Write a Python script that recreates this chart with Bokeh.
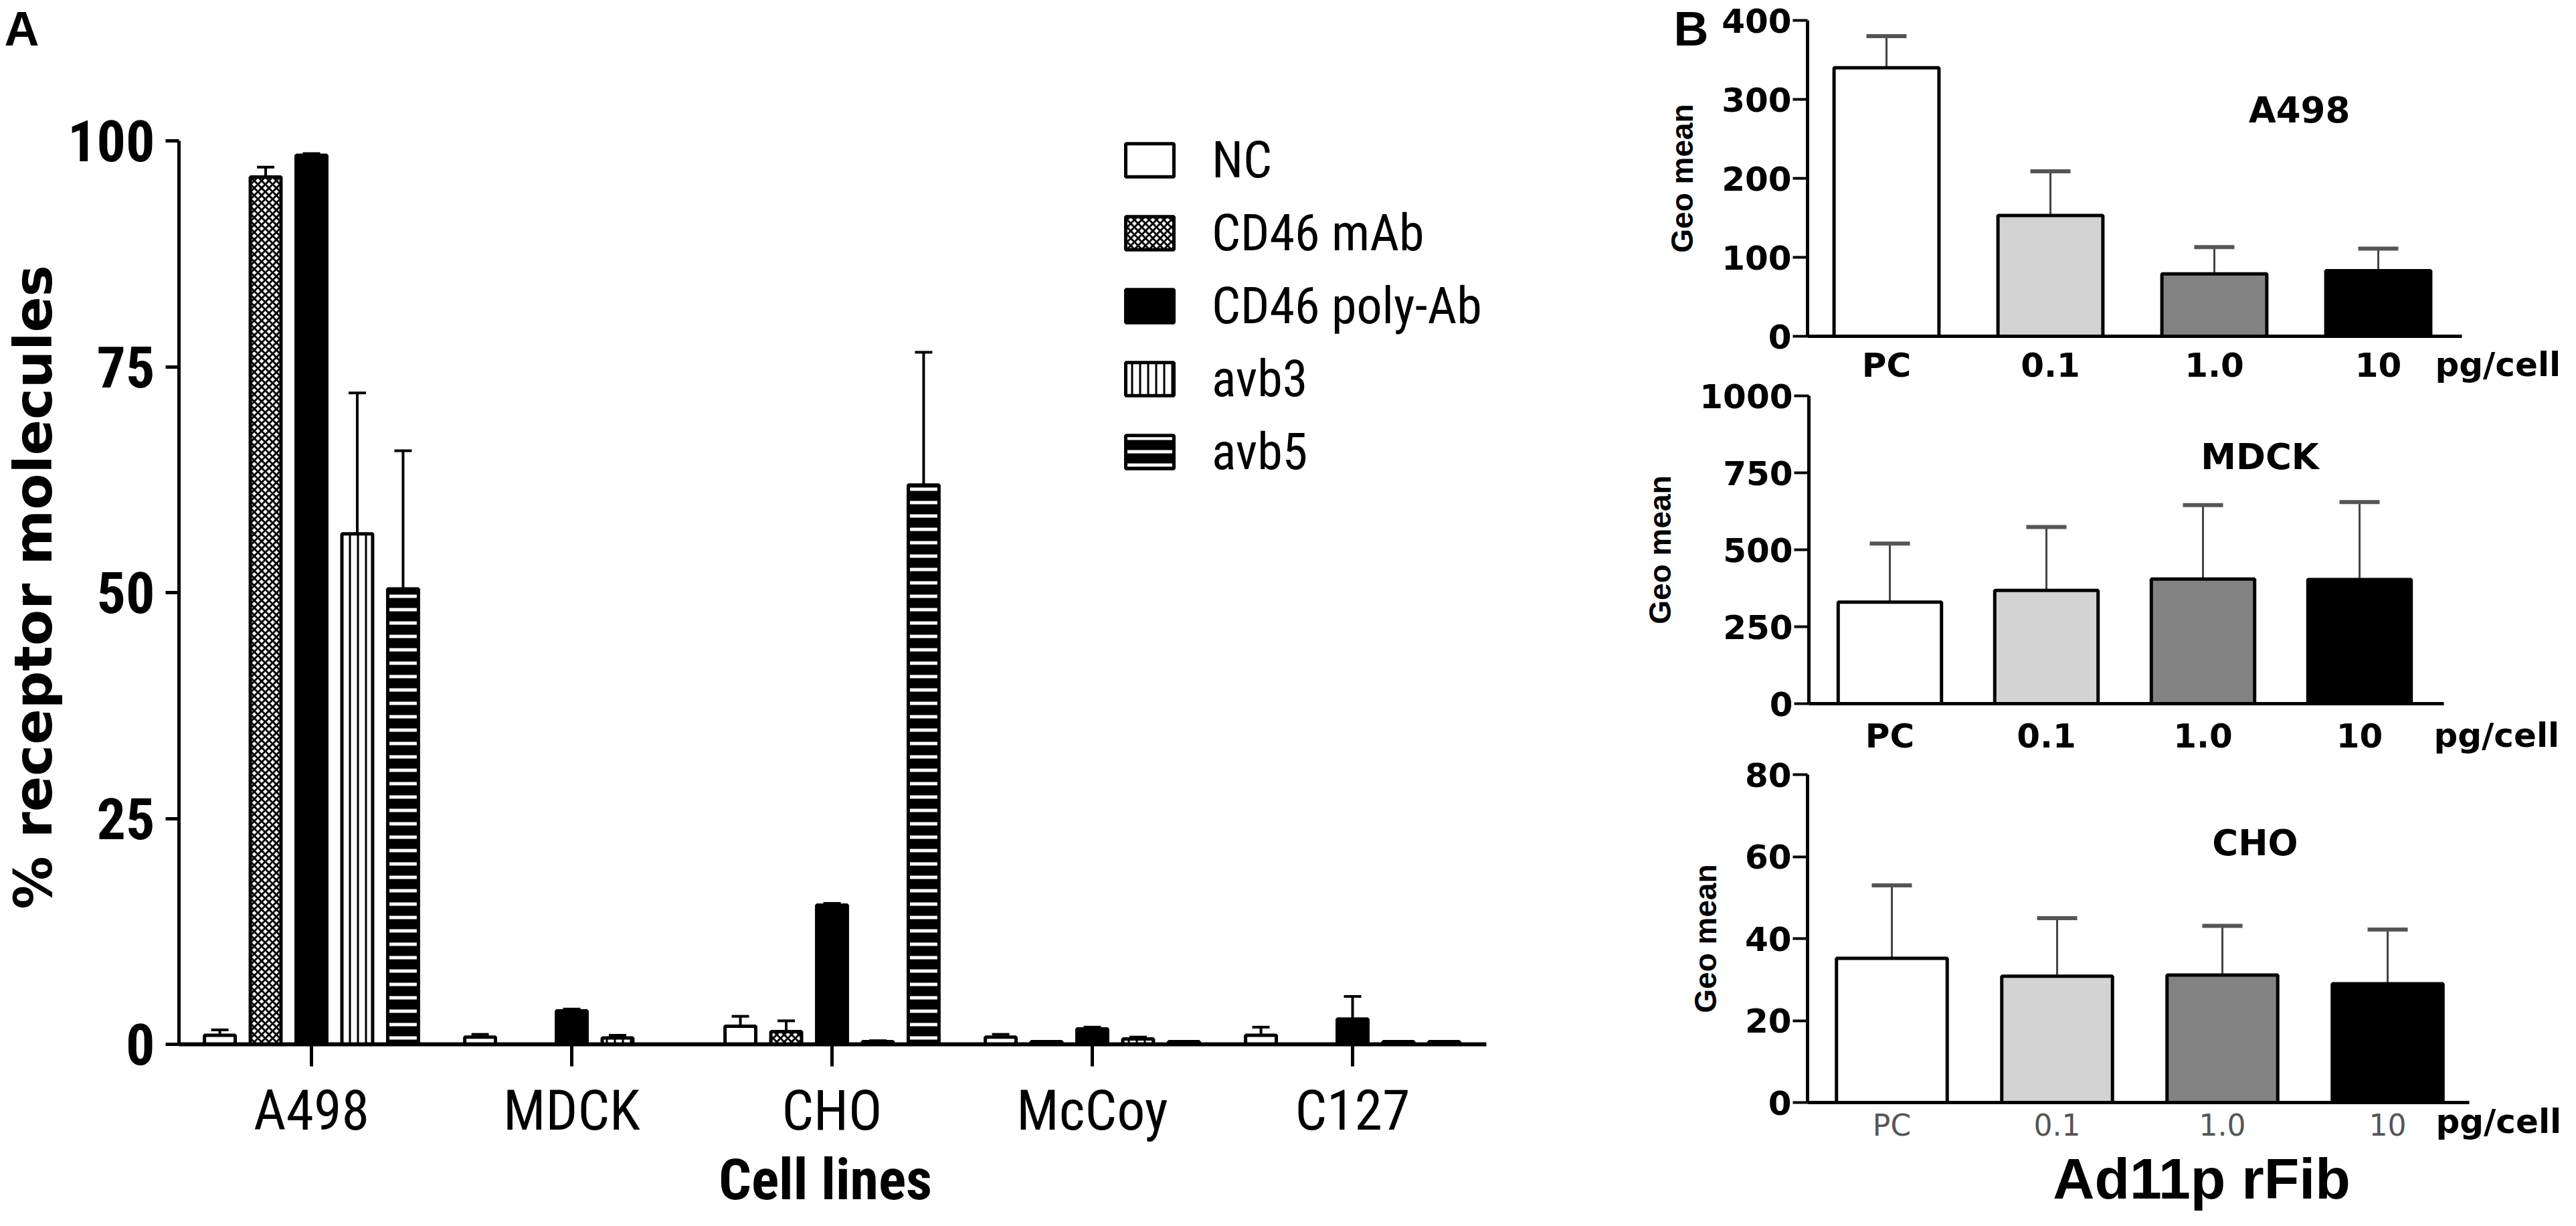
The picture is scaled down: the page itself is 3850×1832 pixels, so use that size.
import numpy as np
from bokeh.plotting import figure
from bokeh.models import (Range1d, FixedTicker, Whisker, TeeHead, ColumnDataSource,
                          Label, Legend, LegendItem, LinearAxis)
from bokeh.embed import file_html
from bokeh.resources import INLINE

# ---------------- data: panel A ----------------
cell_lines = ["A498", "MDCK", "CHO", "McCoy", "C127"]
series_names = ["NC", "CD46 mAb", "CD46 poly-Ab", "avb3", "avb5"]
nc_val = [1.0, 0.8, 2.0, 0.8, 1.0]
nc_err = [0.6, 0.3, 1.1, 0.3, 0.9]
mab_val = [96.0, 0.0, 1.4, 0.3, 0.0]
mab_err = [1.1, 0.0, 1.2, 0.0, 0.0]
poly_val = [98.4, 3.7, 15.4, 1.7, 2.8]
poly_err = [0.2, 0.2, 0.2, 0.2, 2.5]
avb3_val = [56.5, 0.7, 0.3, 0.6, 0.3]
avb3_err = [15.6, 0.3, 0.1, 0.2, 0.0]
avb5_val = [50.4, 0.0, 61.9, 0.3, 0.3]
avb5_err = [15.3, 0.0, 14.7, 0.0, 0.0]
y_ticks_a = [0, 25, 50, 75, 100]

# ---------------- data: panel B ----------------
doses = ["PC", "0.1", "1.0", "10"]
a498_val = [340, 153, 79, 83]
a498_err = [40, 56, 34, 28]
mdck_val = [330, 368, 405, 403]
mdck_err = [190, 206, 240, 252]
cho_val = [35.2, 30.8, 31.1, 29.0]
cho_err = [17.8, 14.2, 12.0, 13.2]
ticks_a498 = [0, 100, 200, 300, 400]
ticks_mdck = [0, 250, 500, 750, 1000]
ticks_cho = [0, 20, 40, 60, 80]
dose_colors = ["white", "#d3d3d3", "#828282", "black"]

SANS = "Liberation Sans"
COND = "Roboto Condensed, Liberation Sans"
DJ = "DejaVu Sans"

# ---------------- canvas geometry (page pixels) ----------------
PAGE_L, PAGE_T, W, H = 8, 8, 3834, 1816


class Geo:
    """Linear map from page pixels to one panel's data units over the whole canvas."""
    def __init__(self, x0, xppu, y0, yppu):
        self.x0, self.xppu, self.y0, self.yppu = x0, xppu, y0, yppu

    def x(self, px):
        return (px - self.x0) / self.xppu

    def y(self, py):
        return (self.y0 - py) / self.yppu

    def xr(self):
        return Range1d(self.x(PAGE_L), self.x(PAGE_L + W))

    def yr(self):
        return Range1d(self.y(PAGE_T + H), self.y(PAGE_T))


gA = Geo(473.0, 389.0, 1568, 13.5)
g1 = Geo(2827, 245.0, 510, (510 - 38) / 400)
g2 = Geo(2832, 234.0, 1059, 0.46)
g3 = Geo(2835, 247.0, 1655, 6.125)

p = figure(width=W, height=H, title=None, x_range=gA.xr(), y_range=gA.yr(),
           output_backend="svg", toolbar_location=None, min_border=0,
           border_fill_color="white", background_fill_color="white")
p.xgrid.visible = False
p.ygrid.visible = False
p.outline_line_color = None
for name, g in (("b1", g1), ("b2", g2), ("b3", g3)):
    p.extra_x_ranges[name + "x"] = g.xr()
    p.extra_y_ranges[name + "y"] = g.yr()


def label(g, rn, px, py, text, font, size, style="bold", align="center", angle=0.0, color="black"):
    kw = {} if rn is None else dict(x_range_name=rn + "x", y_range_name=rn + "y")
    p.add_layout(Label(x=g.x(px), y=g.y(py), text=text, angle=angle, text_align=align,
                       text_baseline="middle", text_font=font, text_font_style=style,
                       text_font_size=size, text_color=color, **kw))


# ================= Panel A =================
styles = [
    dict(fill_color="white"),
    dict(fill_color="white", hatch_pattern="diagonal_cross", hatch_color="black", hatch_scale=11, hatch_weight=3),
    dict(fill_color="black"),
    dict(fill_color="white", hatch_pattern="vertical_line", hatch_color="black", hatch_scale=12, hatch_weight=3),
    dict(fill_color="black", hatch_pattern="horizontal_line", hatch_color="white", hatch_scale=20, hatch_weight=5),
]
vals_all = [nc_val, mab_val, poly_val, avb3_val, avb5_val]
errs_all = [nc_err, mab_err, poly_err, avb3_err, avb5_err]
step = 0.176
renderers = []
for i, (vals, errs, st) in enumerate(zip(vals_all, errs_all, styles)):
    xs = [c + (i - 2) * step for c in range(len(cell_lines))]
    src = ColumnDataSource(dict(x=xs, top=vals, hi=[v + e for v, e in zip(vals, errs)]))
    p.add_layout(Whisker(source=src, base="x", lower="top", upper="hi", dimension="height",
                         line_color="black", line_width=4,
                         upper_head=TeeHead(size=26, line_width=4, line_color="black"),
                         lower_head=None))
    r = p.vbar(x="x", top="top", bottom=0, width=0.118, source=src,
               line_color="black", line_width=5, **st)
    renderers.append(r)

xa = p.xaxis[0]
xa.fixed_location = 0
xa.bounds = (gA.x(275), gA.x(2229))
xa.ticker = FixedTicker(ticks=list(range(len(cell_lines))))
xa.major_label_overrides = {i: n for i, n in enumerate(cell_lines)}
xa.major_tick_out = 33
xa.major_tick_in = 0
xa.minor_tick_line_color = None
xa.axis_line_width = 6
xa.major_tick_line_width = 5
xa.major_label_text_font = COND
xa.major_label_text_font_size = "84px"
xa.major_label_text_color = "black"
xa.major_label_standoff = 16

ya = p.yaxis[0]
ya.fixed_location = gA.x(275)
ya.bounds = (0, 100)
ya.ticker = FixedTicker(ticks=y_ticks_a)
ya.major_tick_out = 20
ya.major_tick_in = 0
ya.minor_tick_line_color = None
ya.axis_line_width = 5
ya.major_tick_line_width = 5
ya.major_label_text_font = COND
ya.major_label_text_font_style = "bold"
ya.major_label_text_font_size = "86px"
ya.major_label_text_color = "black"
ya.major_label_standoff = 16

legend = Legend(items=[LegendItem(label=n, renderers=[r]) for n, r in zip(series_names, renderers)],
                location=(1673, 1096), orientation="vertical",
                glyph_width=90, glyph_height=62, label_height=62, spacing=19,
                padding=0, margin=0, label_standoff=48,
                border_line_color=None, background_fill_alpha=0,
                label_text_font=COND, label_text_font_size="76px", label_text_color="black")
p.add_layout(legend)

label(gA, None, 40, 50, "A", SANS, "72px")
label(gA, None, 57, 885, "% receptor molecules", DJ, "79px", angle=np.pi / 2)
label(gA, None, 1241, 1770, "Cell lines", COND, "86px")


# ================= Panel B =================
def panel_b(g, rn, vals, errs, ticks, axis_left, axis_right, barw, title, title_xy, unit_xy,
            xl_size, xl_style, xl_color, xl_standoff):
    xn, yn = rn + "x", rn + "y"
    src = ColumnDataSource(dict(x=list(range(len(doses))), top=vals,
                                hi=[v + e for v, e in zip(vals, errs)], color=dose_colors))
    p.add_layout(Whisker(source=src, base="x", lower="top", upper="hi", dimension="height",
                         line_color="#444444", line_width=3, x_range_name=xn, y_range_name=yn,
                         upper_head=TeeHead(size=60, line_width=6, line_color="#555555"),
                         lower_head=None))
    p.vbar(x="x", top="top", bottom=0, width=barw, source=src, fill_color="color",
           line_color="black", line_width=5, x_range_name=xn, y_range_name=yn)
    xax = LinearAxis(x_range_name=xn, y_range_name=yn, fixed_location=0,
                     bounds=(g.x(axis_left), g.x(axis_right)),
                     ticker=FixedTicker(ticks=list(range(len(doses)))),
                     major_label_overrides={i: d for i, d in enumerate(doses)},
                     major_tick_out=0, major_tick_in=0, minor_tick_line_color=None,
                     axis_line_width=5, major_label_text_font=DJ,
                     major_label_text_font_style=xl_style, major_label_text_font_size=xl_size,
                     major_label_text_color=xl_color, major_label_standoff=xl_standoff)
    p.add_layout(xax, "below")
    yax = LinearAxis(x_range_name=xn, y_range_name=yn, fixed_location=g.x(axis_left),
                     bounds=(ticks[0], ticks[-1]), ticker=FixedTicker(ticks=ticks),
                     major_tick_out=22, major_tick_in=0, minor_tick_line_color=None,
                     axis_line_width=5, major_tick_line_width=4,
                     major_label_text_font=DJ, major_label_text_font_style="bold",
                     major_label_text_font_size="50px", major_label_text_color="black",
                     major_label_standoff=2,
                     axis_label="Geo mean", axis_label_text_font=SANS,
                     axis_label_text_font_style="bold", axis_label_text_font_size="46px",
                     axis_label_text_color="black", axis_label_standoff=30)
    p.add_layout(yax, "left")
    label(g, rn, title_xy[0], title_xy[1], title, DJ, "53px")
    label(g, rn, unit_xy[0], unit_xy[1], "pg/cell", DJ, "50px", align="left")


panel_b(g1, "b1", a498_val, a498_err, ticks_a498, 2709, 3687, 0.64,
        "A498", (3444, 172), (3647, 552), "50px", "bold", "black", 14)
panel_b(g2, "b2", mdck_val, mdck_err, ticks_mdck, 2711, 3660, 0.66,
        "MDCK", (3385, 690), (3645, 1106), "50px", "bold", "black", 19)
panel_b(g3, "b3", cho_val, cho_err, ticks_cho, 2709, 3698, 0.67,
        "CHO", (3378, 1267), (3648, 1683), "44px", "normal", "#555555", 8)
label(g1, "b1", 2535, 50, "B", SANS, "72px")
label(g3, "b3", 3298, 1768, "Ad11p rFib", SANS, "86px")

open("out.html", "w").write(file_html(p, INLINE))
